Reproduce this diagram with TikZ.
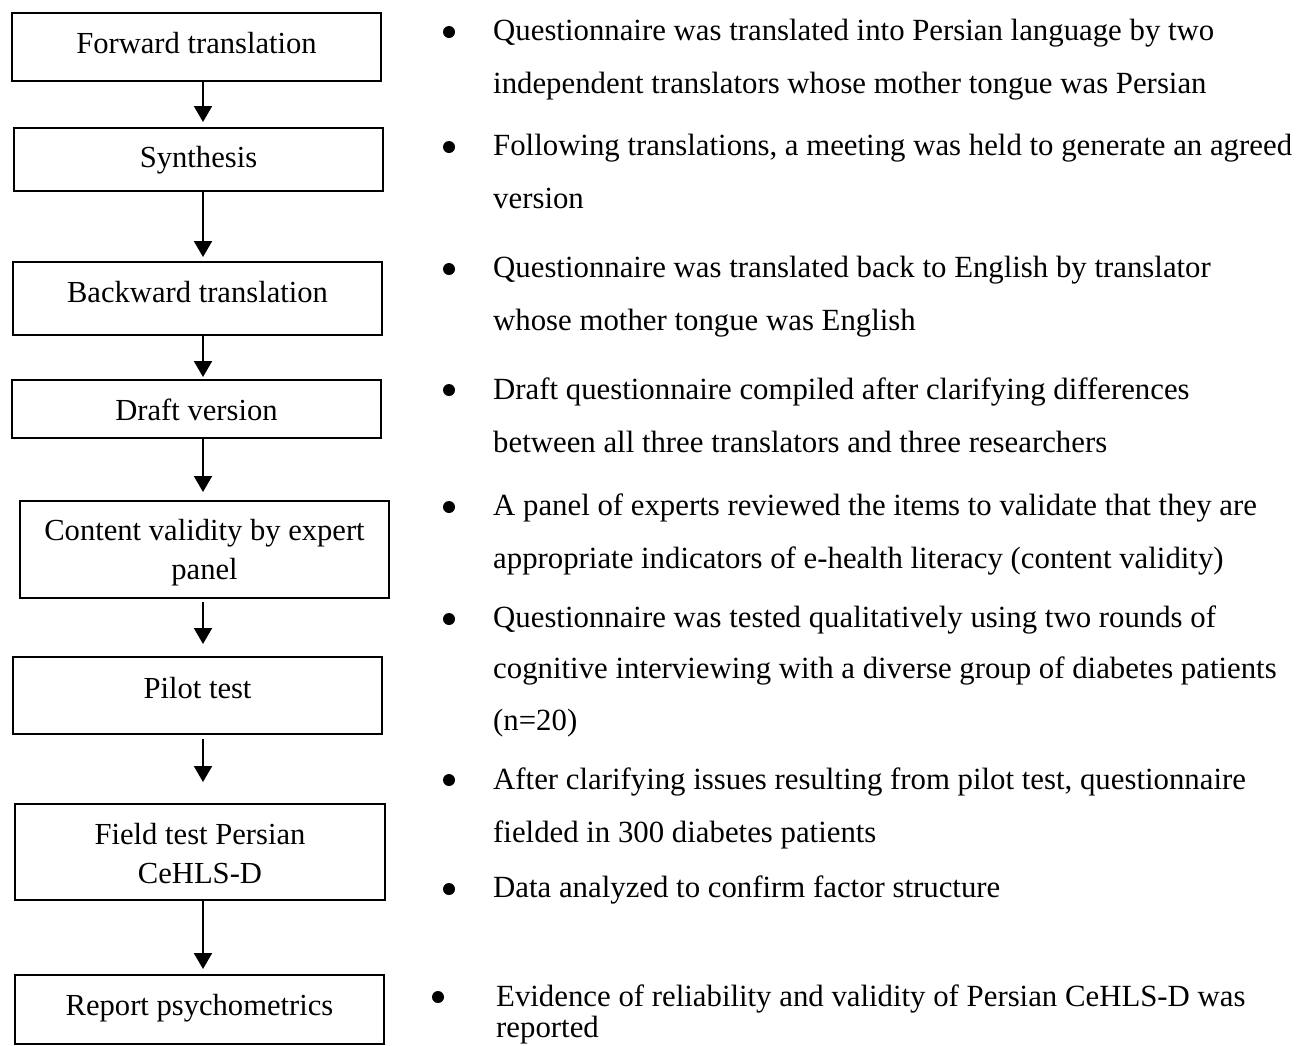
\documentclass[tikz,border=0pt]{standalone}
\usepackage{fontspec}
\setmainfont{Liberation Serif}
\usetikzlibrary{arrows.meta}
\newcommand\bxfont{\fontsize{30.6}{38.5}\selectfont}
\newcommand\rtfont{\fontsize{30.8}{53}\selectfont}
\tikzset{
  box/.style={draw, line width=2pt, inner sep=0pt, align=center, font=\bxfont, minimum width=369pt},
  arr/.style={line width=2pt, -{Triangle[width=18pt,length=16pt]}},
  item/.style={anchor=base west, inner sep=0pt, align=left, font=\rtfont},
  bul/.style={circle, fill, inner sep=0pt, minimum size=12pt},
}
\begin{document}
\begin{tikzpicture}[x=1pt,y=-1pt]
\useasboundingbox (0,0) rectangle (1304,1045);
\coordinate (ax) at (203,0);
% boxes
\node[box, minimum height=68pt, text height=20pt, text depth=8pt] (b1) at (196.5,47) {Forward translation};
\node[box, minimum height=63pt, text height=21.5pt, text depth=6.5pt] (b2) at (198.5,159.5) {Synthesis};
\node[box, minimum height=73pt, text height=17.5pt, text depth=10.5pt] (b3) at (197.5,298.5) {Backward translation};
\node[box, minimum height=58pt, text height=25pt, text depth=3pt] (b4) at (196.5,409) {Draft version};
\node[box, minimum height=97pt, text height=62pt, text depth=3pt] (b5) at (204.5,549.5) {Content validity by expert\\panel};
\node[box, minimum height=77pt, text height=16.5pt, text depth=11.5pt] (b6) at (197.5,695.5) {Pilot test};
\node[box, minimum width=370pt, minimum height=96pt, text height=65pt, text depth=3pt] (b7) at (200,852) {Field test Persian\\CeHLS-D};
\node[box, minimum height=69pt, text height=19.5pt, text depth=8.5pt] (b8) at (199.5,1009.5) {Report psychometrics};
% arrows
\draw[arr, shorten >=5pt] (b1.south -| ax) -- (b2.north -| ax);
\draw[arr, shorten >=4pt] (b2.south -| ax) -- (b3.north -| ax);
\draw[arr, shorten >=2pt] (b3.south -| ax) -- (b4.north -| ax);
\draw[arr, shorten >=8pt] (b4.south -| ax) -- (b5.north -| ax);
\draw[arr, shorten <=3pt, shorten >=12pt] (b5.south -| ax) -- (b6.north -| ax);
\draw[arr, shorten <=4pt, shorten >=21pt] (b6.south -| ax) -- (b7.north -| ax);
\draw[arr, shorten >=5pt] (b7.south -| ax) -- (b8.north -| ax);
% bullets
\node[bul] (u1) at (449,32) {};
\node[bul] (u2) at (449,147) {};
\node[bul] (u3) at (449,269) {};
\node[bul] (u4) at (449,390) {};
\node[bul] (u5) at (449,507) {};
\node[bul] (u6) at (449,619) {};
\node[bul] (u7) at (449,780) {};
\node[bul] (u8) at (449,889) {};
\node[bul] (u9) at (438,997) {};
% items (base = last line)
\node[item] (t1) at (493,93) {Questionnaire was translated into Persian language by two\\independent translators whose mother tongue was Persian};
\node[item] (t2) at (493,208) {Following translations, a meeting was held to generate an agreed\\version};
\node[item] (t3) at (493,330) {Questionnaire was translated back to English by translator\\whose mother tongue was English};
\node[item] (t4) at (493,452) {Draft questionnaire compiled after clarifying differences\\between all three translators and three researchers};
\node[item] (t5) at (493,568) {A panel of experts reviewed the items to validate that they are\\appropriate indicators of e-health literacy (content validity)};
\node[item, font=\fontsize{30.8}{51.5}\selectfont] (t6) at (493,730) {Questionnaire was tested qualitatively using two rounds of\\cognitive interviewing with a diverse group of diabetes patients\\(n=20)};
\node[item] (t7) at (493,842) {After clarifying issues resulting from pilot test, questionnaire\\fielded in 300 diabetes patients};
\node[item] (t8) at (493,897) {Data analyzed to confirm factor structure};
\node[item, font=\fontsize{30.8}{31}\selectfont] (t9) at (496,1037) {Evidence of reliability and validity of Persian CeHLS-D was\\reported};
\end{tikzpicture}
\end{document}
